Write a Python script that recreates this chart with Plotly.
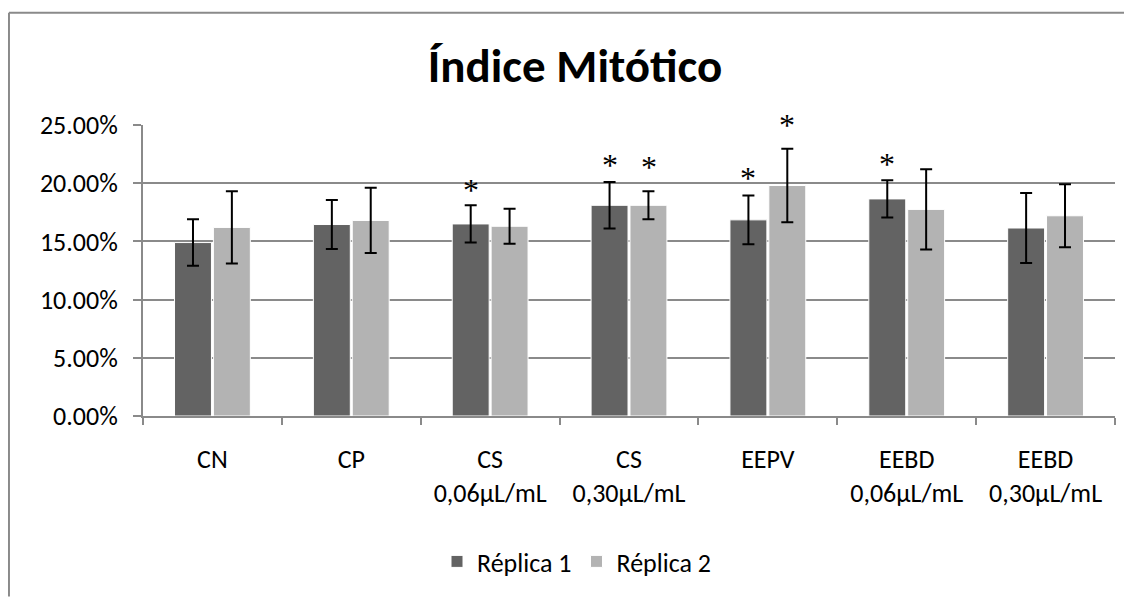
import plotly.graph_objects as go

categories = ["CN", "CP", "CS<br>0,06µL/mL", "CS<br>0,30µL/mL", "EEPV", "EEBD<br>0,06µL/mL", "EEBD<br>0,30µL/mL"]
rep1 = [14.9, 16.45, 16.5, 18.1, 16.85, 18.65, 16.15]
rep1_err = [2.0, 2.1, 1.6, 2.0, 2.1, 1.6, 3.0]
rep2 = [16.2, 16.8, 16.3, 18.1, 19.8, 17.75, 17.2]
rep2_err = [3.1, 2.8, 1.5, 1.2, 3.15, 3.45, 2.7]
# asterisk marks (centre height in %), None = no mark
star1 = [None, None, 19.9, 22.07, 21.0, 22.2, None]
star2 = [None, None, None, 21.95, 25.5, None, None]
yticks = [0, 5, 10, 15, 20, 25]
ytick_labels = ["0.00%", "5.00%", "10.00%", "15.00%", "20.00%", "25.00%"]
y_max = 25

FONT = "Carlito, Lato, sans-serif"
GRID = "#8a8a8a"

fig = go.Figure()
fig.add_trace(go.Bar(
    x=categories, y=rep1, name="Réplica 1", offsetgroup="1",
    marker=dict(color="#636363", line=dict(color="white", width=1)),
    error_y=dict(type="data", array=rep1_err, color="black", thickness=2, width=6),
))
fig.add_trace(go.Bar(
    x=categories, y=rep2, name="Réplica 2", offsetgroup="2",
    marker=dict(color="#b3b3b3", line=dict(color="white", width=1)),
    error_y=dict(type="data", array=rep2_err, color="black", thickness=2, width=6),
))

# significance asterisks placed over the corresponding bar of each group
for star, shift in ((star1, -19.5), (star2, 19.5)):
    for cat, s in zip(categories, star):
        if s is None:
            continue
        fig.add_annotation(
            x=cat, y=s / y_max, xref="x", yref="y domain", text="*", showarrow=False,
            xanchor="center", yanchor="middle", xshift=shift, yshift=-6,
            font=dict(family="Liberation Serif, serif", size=32, color="black"),
        )

fig.update_layout(
    width=1124, height=589,
    margin=dict(l=135, r=17, t=117, b=179),
    paper_bgcolor="white", plot_bgcolor="white",
    barmode="group", bargap=0.44, bargroupgap=0.05,
    font=dict(family=FONT, size=26, color="black"),
    title=dict(text="<b>Índice Mitótico</b>", xref="container", yref="container",
               x=0.5045, y=0.903, xanchor="center", yanchor="middle",
               font=dict(family=FONT, size=47, color="black")),
    legend=dict(orientation="h", x=0.446, y=-0.5, xanchor="center", yanchor="middle",
                font=dict(family=FONT, size=26), itemwidth=30),
    showlegend=True,
)
fig.update_yaxes(
    range=[0, y_max], tickvals=yticks, ticktext=ytick_labels,
    showgrid=True, gridcolor=GRID, gridwidth=2,
    showline=True, linecolor=GRID, linewidth=2,
    ticks="outside", ticklen=8, tickcolor=GRID, tickwidth=2,
    ticklabelstandoff=10, zeroline=False,
)
fig.update_xaxes(
    showline=True, linecolor=GRID, linewidth=2,
    ticks="outside", tickson="boundaries", ticklen=7, tickcolor=GRID, tickwidth=2,
    ticklabelstandoff=19, showgrid=False,
)
# outer chart frame (top and left edges visible)
fig.add_shape(type="line", xref="paper", yref="paper", x0=-0.1379, x1=1.02, y0=1.3857, y1=1.3857,
              line=dict(color="#8a8a8a", width=2))
fig.add_shape(type="line", xref="paper", yref="paper", x0=-0.1379, x1=-0.1379, y0=1.3857, y1=-0.62,
              line=dict(color="#8a8a8a", width=2))

fig.write_html("out.html")
